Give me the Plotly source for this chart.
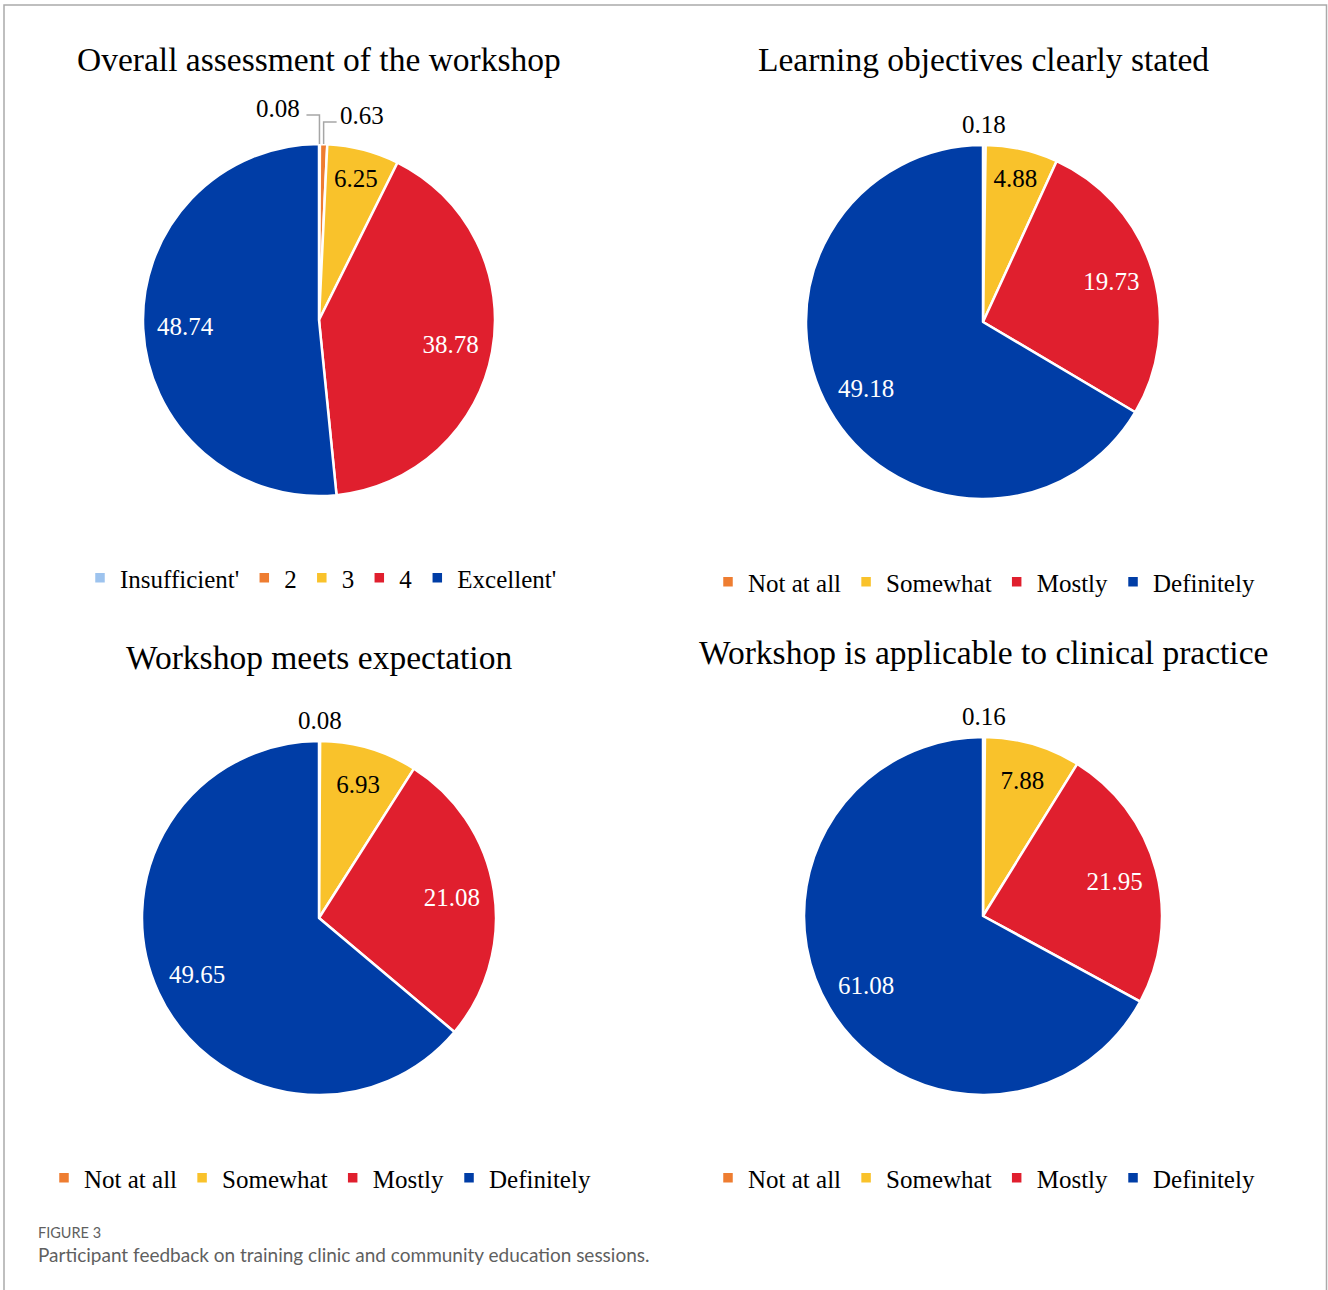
import math
import plotly.graph_objects as go

# ---------------- data ----------------
titles = [
    "Overall assessment of the workshop",
    "Learning objectives clearly stated",
    "Workshop meets expectation",
    "Workshop is applicable to clinical practice",
]
labels_overall = ["Insufficient'", "2", "3", "4", "Excellent'"]
values_overall = [0.08, 0.63, 6.25, 38.78, 48.74]

labels_agree = ["Not at all", "Somewhat", "Mostly", "Definitely"]
values_objectives = [0.18, 4.88, 19.73, 49.18]
values_expectation = [0.08, 6.93, 21.08, 49.65]
values_clinical = [0.16, 7.88, 21.95, 61.08]

caption_label = "FIGURE 3"
caption_text = "Participant feedback on training clinic and community education sessions."

# ---------------- styles ----------------
W, H = 1328, 1290
C_LBLUE = "#9DC3EE"
C_ORANGE = "#EE7D31"
C_YELLOW = "#F9C22B"
C_RED = "#E01F2E"
C_BLUE = "#003DA6"
SERIF = "Liberation Serif, Times New Roman, serif"
VAL_SIZE = 25
LINE_GRAY = "#A6A6A6"

colors_overall = [C_LBLUE, C_ORANGE, C_YELLOW, C_RED, C_BLUE]
colors_agree = [C_ORANGE, C_YELLOW, C_RED, C_BLUE]
# label role per slice: 'small' = outside annotation, 'centroid' = main pie text, 'ring' = outer text
role_overall = ["small", "small", "centroid", "ring", "ring"]
role_agree = ["small", "centroid", "ring", "ring"]
txtcol_overall = ["black", "black", "black", "white", "white"]
txtcol_agree = ["black", "black", "white", "white"]


def px_x(x):
    return x / W


def px_y(y):
    return 1 - y / H


def domain(cx, cy, r):
    return dict(x=[px_x(cx - r), px_x(cx + r)], y=[px_y(cy + r), px_y(cy - r)])


panels = [
    (labels_overall, values_overall, colors_overall, txtcol_overall, role_overall, (319, 320, 176), "legend"),
    (labels_agree, values_objectives, colors_agree, txtcol_agree, role_agree, (983, 322, 177), "legend2"),
    (labels_agree, values_expectation, colors_agree, txtcol_agree, role_agree, (319, 918, 177), "legend3"),
    (labels_agree, values_clinical, colors_agree, txtcol_agree, role_agree, (983, 916, 179), "legend4"),
]

fig = go.Figure()
small_labels = []  # (panel index, value, rim x, rim y)
for pi, (labels, vals, cols, tcols, roles, (cx, cy, r), lg) in enumerate(panels):
    dom = domain(cx, cy, r)
    fig.add_trace(go.Pie(
        labels=labels, values=vals, sort=False, direction="clockwise", rotation=0,
        marker=dict(colors=cols, line=dict(color="white", width=2.5)),
        texttemplate="%{value:.2f}",
        textposition=["inside" if ro == "centroid" else "none" for ro in roles],
        insidetextorientation="horizontal",
        textfont=dict(family=SERIF, size=VAL_SIZE, color=tcols),
        hoverinfo="label+value",
        domain=dom, legend=lg, legendgroup=f"g{pi}", showlegend=True,
    ))
    # outer-ring text layer (labels set further out, like the original)
    fig.add_trace(go.Pie(
        labels=labels, values=vals, sort=False, direction="clockwise", rotation=0, hole=0.52,
        marker=dict(colors=["rgba(0,0,0,0)"] * len(vals), line=dict(width=0)),
        texttemplate="%{value:.2f}",
        textposition=["inside" if ro == "ring" else "none" for ro in roles],
        insidetextorientation="horizontal",
        textfont=dict(family=SERIF, size=VAL_SIZE, color=tcols),
        hoverinfo="skip", domain=dom, legend=lg, legendgroup=f"r{pi}", showlegend=False,
    ))
    total = sum(vals)
    cum = 0.0
    for v, ro in zip(vals, roles):
        a = 2 * math.pi * (cum + v / 2) / total
        cum += v
        if ro == "small":
            small_labels.append((pi, v, cx + r * math.sin(a), cy - r * math.cos(a)))

legend_style = dict(orientation="h", xanchor="center", yanchor="middle",
                    font=dict(family=SERIF, size=25, color="black"),
                    bgcolor="rgba(0,0,0,0)", itemwidth=30, traceorder="normal")
fig.update_layout(
    width=W, height=H, margin=dict(l=0, r=0, t=0, b=0),
    paper_bgcolor="white", plot_bgcolor="white",
    legend=dict(x=px_x(321), y=px_y(578), **legend_style),
    legend2=dict(x=px_x(984), y=px_y(582), **legend_style),
    legend3=dict(x=px_x(320), y=px_y(1178), **legend_style),
    legend4=dict(x=px_x(984), y=px_y(1178), **legend_style),
)

# small-slice labels above the pies
overall_small = [s for s in small_labels if s[0] == 0]
for pi, v, rx, ry in small_labels:
    if pi != 0:
        fig.add_annotation(text=f"{v:.2f}", x=px_x(rx), y=px_y(ry - 21), xref="paper", yref="paper",
                           showarrow=False, xanchor="center", yanchor="middle",
                           font=dict(family=SERIF, size=VAL_SIZE, color="black"))

# overall pie: labels with elbow leader lines (left for first, right for second)
for k, (pi, v, rx, ry) in enumerate(overall_small):
    side = -1 if k == 0 else 1
    rise = 29 if k == 0 else 22
    run = 13
    ex, ey = rx, ry - rise
    hx = ex + side * run
    fig.add_shape(type="path", xref="paper", yref="paper",
                  path=f"M {px_x(rx)} {px_y(ry)} L {px_x(ex)} {px_y(ey)} L {px_x(hx)} {px_y(ey)}",
                  line=dict(color=LINE_GRAY, width=1.5))
    gap = 4 if side < 0 else 1
    fig.add_annotation(text=f"{v:.2f}", x=px_x(hx + side * gap), y=px_y(ey - 7), xref="paper", yref="paper",
                       showarrow=False, xanchor="right" if side < 0 else "left", yanchor="middle",
                       font=dict(family=SERIF, size=VAL_SIZE, color="black"))

title_pos = [(319, 60), (983, 60), (319, 658), (983, 652)]
for t, (x, y) in zip(titles, title_pos):
    fig.add_annotation(text=t, x=px_x(x), y=px_y(y), xref="paper", yref="paper",
                       showarrow=False, xanchor="center", yanchor="middle",
                       font=dict(family=SERIF, size=33.5, color="black"))

fig.add_annotation(text=caption_label, x=px_x(36), y=px_y(1232), xref="paper", yref="paper",
                   showarrow=False, xanchor="left", yanchor="middle",
                   font=dict(family="Lato, Open Sans, sans-serif", size=14.5, color="#5F5F5F"))
fig.add_annotation(text=caption_text, x=px_x(36), y=px_y(1254), xref="paper", yref="paper",
                   showarrow=False, xanchor="left", yanchor="middle",
                   font=dict(family="Lato, Open Sans, sans-serif", size=19, color="#5F5F5F"))

# figure frame
fig.add_shape(type="rect", xref="paper", yref="paper",
              x0=px_x(4), x1=px_x(1326.5), y0=-0.05, y1=px_y(5),
              line=dict(color="#AAAAAA", width=1.5), fillcolor="rgba(0,0,0,0)", layer="below")

fig.write_html("out.html")
